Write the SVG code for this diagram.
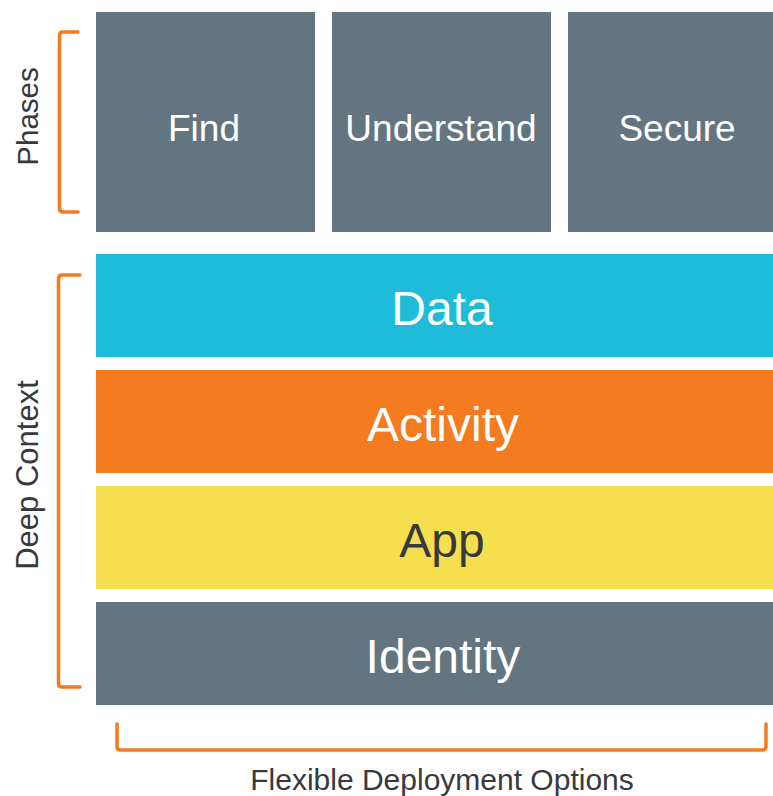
<svg xmlns="http://www.w3.org/2000/svg" width="773" height="796" viewBox="0 0 773 796">
<style>
.gray{fill:#637580}
.lbl{font-family:"Liberation Sans",Arial,sans-serif;text-anchor:middle}
.w{fill:#ffffff}
.dk{fill:#38393b}
.br{fill:none;stroke:#f47b20;stroke-width:3.5;stroke-linejoin:round;stroke-linecap:round}
</style>
<rect width="773" height="796" fill="#ffffff"/>
<g id="find"><rect class="gray" x="96" y="12" width="219" height="220"/><text class="lbl w" x="204" y="141" font-size="37">Find</text></g>
<g id="understand"><rect class="gray" x="332" y="12" width="219" height="220"/><text class="lbl w" x="441" y="141" font-size="37">Understand</text></g>
<g id="secure"><rect class="gray" x="568" y="12" width="219" height="220"/><text class="lbl w" x="677" y="141" font-size="37">Secure</text></g>
<g id="data"><rect x="96" y="254" width="692" height="103" fill="#1fbcda"/><text class="lbl w" x="442" y="325" font-size="48">Data</text></g>
<g id="activity"><rect x="96" y="370" width="692" height="103" fill="#f47b20"/><text class="lbl w" x="443" y="441" font-size="48">Activity</text></g>
<g id="app"><rect x="96" y="486" width="692" height="103" fill="#f6df4f"/><text class="lbl dk" x="442" y="557" font-size="48">App</text></g>
<g id="identity"><rect class="gray" x="96" y="602" width="692" height="103"/><text class="lbl w" x="443" y="673" font-size="48">Identity</text></g>
<g id="connectors">
<path class="br" d="M78,32 L63,32 Q59.5,32 59.5,35.5 L59.5,208.5 Q59.5,212 63,212 L78,212"/>
<path class="br" d="M80,275 L62,275 Q58.5,275 58.5,278.5 L58.5,683.5 Q58.5,687 62,687 L80,687"/>
<path class="br" d="M117,724 L117,746.5 Q117,750 120.5,750 L762.5,750 Q766,750 766,746.5 L766,724"/>
</g>
<g id="labels">
<text class="lbl dk" font-size="29.5" transform="translate(38,116.5) rotate(-90)">Phases</text>
<text class="lbl dk" font-size="31" transform="translate(38,475) rotate(-90)">Deep Context</text>
<text class="lbl dk" x="442" y="790" font-size="30">Flexible Deployment Options</text>
</g>
</svg>
